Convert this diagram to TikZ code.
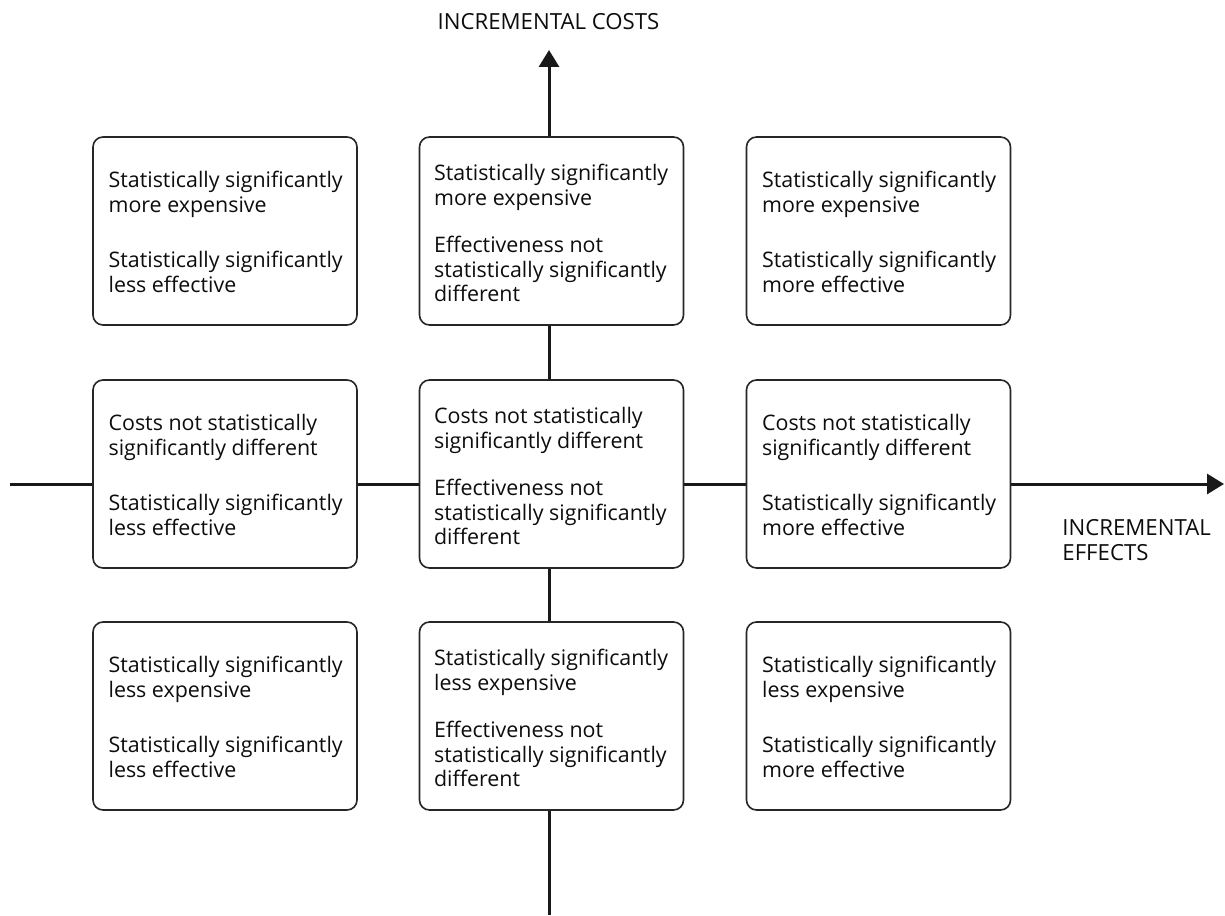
\documentclass[tikz,border=0pt]{standalone}
\usepackage{fontspec}
\setmainfont{Open Sans}
\usetikzlibrary{arrows.meta,calc}

\tikzset{
  axis/.style={line width=1.5pt, draw=black!90,
    -{Triangle[length=8.5pt,width=10pt]}},
  cell/.style={draw=black!85, line width=0.8pt, fill=white,
    rounded corners=5pt, minimum width=132pt, minimum height=94pt,
    inner sep=0pt},
  celltext/.style={anchor=north west, align=left, inner sep=0pt,
    text=black!95, font=\fontsize{10.7pt}{12.25pt}\selectfont},
  axislabel/.style={inner sep=0pt, text=black!95, align=left,
    font=\fontsize{11.1pt}{12.5pt}\selectfont},
}

\begin{document}
\begin{tikzpicture}[x=0.5pt, y=-0.5pt]
  \useasboundingbox (0,0) rectangle (1225,915);

  % axes
  \coordinate (xfrom) at (10,484);
  \coordinate (xto)   at (1224,484);
  \coordinate (yfrom) at (549,915);
  \coordinate (yto)   at (549,50);
  \draw[axis] (xfrom) -- (xto);
  \draw[axis] (yfrom) -- (yto);

  % the nine cells
  \node[cell] (c11) at (225,231)   {};
  \node[cell] (c12) at (551.5,231) {};
  \node[cell] (c13) at (878.5,231) {};
  \node[cell] (c21) at (225,474)   {};
  \node[cell] (c22) at (551.5,474) {};
  \node[cell] (c23) at (878.5,474) {};
  \node[cell] (c31) at (225,716)   {};
  \node[cell] (c32) at (551.5,716) {};
  \node[cell] (c33) at (878.5,716) {};

  % cell texts
  \node[celltext] (t11) at ($(c11.north west)+(16,35)$)
    {Statistically significantly\\ more expensive\\[15.5pt]
     Statistically significantly\\ less effective};
  \node[celltext] (t12) at ($(c12.north west)+(15,28)$)
    {Statistically significantly\\ more expensive\\[11.5pt]
     Effectiveness not\\ statistically significantly\\ different};
  \node[celltext] (t13) at ($(c13.north west)+(16,35)$)
    {Statistically significantly\\ more expensive\\[15.5pt]
     Statistically significantly\\ more effective};

  \node[celltext] (t21) at ($(c21.north west)+(16,35)$)
    {Costs not statistically\\ significantly different\\[15.5pt]
     Statistically significantly\\ less effective};
  \node[celltext] (t22) at ($(c22.north west)+(15,28)$)
    {Costs not statistically\\ significantly different\\[11.5pt]
     Effectiveness not\\ statistically significantly\\ different};
  \node[celltext] (t23) at ($(c23.north west)+(16,35)$)
    {Costs not statistically\\ significantly different\\[15.5pt]
     Statistically significantly\\ more effective};

  \node[celltext] (t31) at ($(c31.north west)+(16,35)$)
    {Statistically significantly\\ less expensive\\[15.5pt]
     Statistically significantly\\ less effective};
  \node[celltext] (t32) at ($(c32.north west)+(15,28)$)
    {Statistically significantly\\ less expensive\\[11.5pt]
     Effectiveness not\\ statistically significantly\\ different};
  \node[celltext] (t33) at ($(c33.north west)+(16,35)$)
    {Statistically significantly\\ less expensive\\[15.5pt]
     Statistically significantly\\ more effective};

  % axis labels
  \node[axislabel, anchor=north] (costs) at (548.5,13) {INCREMENTAL COSTS};
  \node[axislabel, anchor=north west] (effects) at (1062,519)
    {INCREMENTAL\\ EFFECTS};
\end{tikzpicture}
\end{document}
